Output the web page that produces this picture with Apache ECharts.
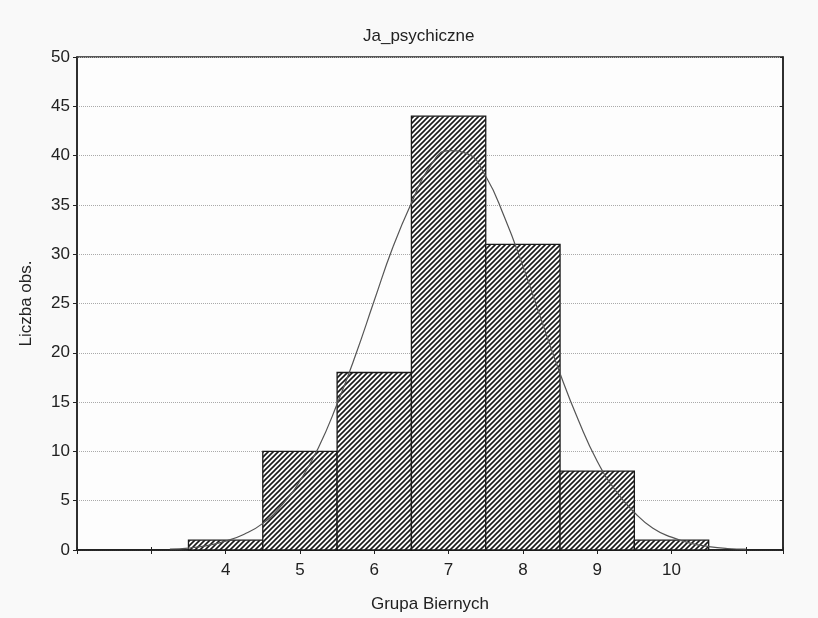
<!DOCTYPE html>
<html>
<head>
<meta charset="utf-8">
<script src="https://cdn.jsdelivr.net/npm/echarts@6/dist/echarts.min.js"></script>
<style>
html,body{margin:0;padding:0;background:#f9f9f9;}
#chart{width:818px;height:618px;}
</style>
</head>
<body>
<div id="chart"></div>
<script>
var categories = [4, 5, 6, 7, 8, 9, 10];
var counts = [1, 10, 18, 44, 31, 8, 1];
var curveX = [3.25, 3.5, 3.75, 4, 4.25, 4.5, 4.75, 5, 5.25, 5.5, 5.75, 6, 6.25, 6.5, 6.75, 7, 7.25, 7.5, 7.75, 8, 8.25, 8.5, 8.75, 9, 9.25, 9.5, 9.75, 10, 10.25, 10.5, 10.75, 11];
var curveY = [0.1, 0.2, 0.45, 0.9, 1.6, 2.7, 4.5, 7.0, 10.4, 14.8, 19.8, 25.3, 30.7, 35.2, 38.9, 40.5, 40.2, 37.9, 33.8, 28.8, 23.3, 17.9, 13.1, 9.0, 6.0, 3.8, 2.2, 1.3, 0.7, 0.35, 0.15, 0.08];
var yTicks = [0, 5, 10, 15, 20, 25, 30, 35, 40, 45, 50];

var T = 5;
var tile = document.createElement('canvas');
tile.width = T; tile.height = T;
var c = tile.getContext('2d');
c.fillStyle = '#ffffff';
c.fillRect(0, 0, T, T);
c.strokeStyle = '#1a1a1a';
c.lineWidth = 1.6;
c.beginPath();
c.moveTo(-1, T + 1); c.lineTo(T + 1, -1);
c.moveTo(-2, 2); c.lineTo(2, -2);
c.moveTo(T - 2, T + 2); c.lineTo(T + 2, T - 2);
c.stroke();
var hatch = {type: 'pattern', image: tile, repeat: 'repeat'};

var barData = categories.map(function (x, i) { return [x, counts[i]]; });
var lineData = curveX.map(function (x, i) { return [x, curveY[i]]; });

var font = '"Liberation Sans", Arial, sans-serif';
var chart = echarts.init(document.getElementById('chart'));
chart.setOption({
  backgroundColor: '#f9f9f9',
  animation: false,
  title: {
    text: 'Ja_psychiczne', left: 358, top: 23,
    textStyle: {fontFamily: font, fontSize: 17, fontWeight: 'normal', color: '#222'}
  },
  grid: {left: 77, right: 35, top: 57, bottom: 66, show: true, backgroundColor: '#fdfdfd', borderColor: '#222', borderWidth: 1.5},
  xAxis: [{
    type: 'value', min: 2, max: 11.5, interval: 1, position: 'bottom',
    name: 'Grupa Biernych', nameLocation: 'middle', nameGap: 46,
    nameTextStyle: {fontFamily: font, fontSize: 17, color: '#222'},
    axisLine: {show: true, lineStyle: {color: '#222', width: 1.5}},
    axisTick: {show: true, inside: true, length: 3, lineStyle: {color: '#222'}},
    splitLine: {show: false},
    axisLabel: {
      margin: 12, fontFamily: font, fontSize: 17, color: '#222',
      formatter: function (v) { return categories.indexOf(v) >= 0 ? String(v) : ''; }
    }
  }, {
    type: 'value', min: 2, max: 11.5, interval: 1, position: 'top',
    axisLine: {show: true, lineStyle: {color: '#222', width: 1.5}},
    axisTick: {show: true, inside: true, length: 4, lineStyle: {color: '#222'}},
    axisLabel: {show: false}, splitLine: {show: false}
  }],
  yAxis: [{
    type: 'value', min: 0, max: 50, interval: 5,
    name: 'Liczba obs.', nameLocation: 'middle', nameGap: 42,
    nameTextStyle: {fontFamily: font, fontSize: 17, color: '#222'},
    axisLine: {show: true, lineStyle: {color: '#222', width: 1.5}},
    axisTick: {show: true, length: 4, lineStyle: {color: '#222'}},
    axisLabel: {
      margin: 7, fontFamily: font, fontSize: 17, color: '#222',
      formatter: function (v) { return yTicks.indexOf(v) >= 0 ? String(v) : ''; }
    },
    splitLine: {show: true, lineStyle: {color: '#aaa', type: 'dotted', width: 1}}
  }, {
    type: 'value', min: 0, max: 50, interval: 5, position: 'right',
    axisLine: {show: true, lineStyle: {color: '#222', width: 1.5}},
    axisTick: {show: true, inside: true, length: 3, lineStyle: {color: '#222'}},
    axisLabel: {show: false}, splitLine: {show: false}
  }],
  series: [{
    type: 'custom',
    xAxisIndex: 0, yAxisIndex: 0,
    data: barData,
    renderItem: function (params, api) {
      var x = api.value(0), y = api.value(1);
      var p0 = api.coord([x - 0.5, y]);
      var p1 = api.coord([x + 0.5, 0]);
      return {
        type: 'rect',
        shape: {x: p0[0], y: p0[1], width: p1[0] - p0[0], height: p1[1] - p0[1]},
        style: {fill: hatch, stroke: '#1a1a1a', lineWidth: 1.3}
      };
    },
    z: 2
  }, {
    type: 'line',
    xAxisIndex: 0, yAxisIndex: 0,
    data: lineData,
    smooth: true,
    symbol: 'none',
    lineStyle: {color: '#555', width: 1.2},
    z: 3
  }]
});
</script>
</body>
</html>
